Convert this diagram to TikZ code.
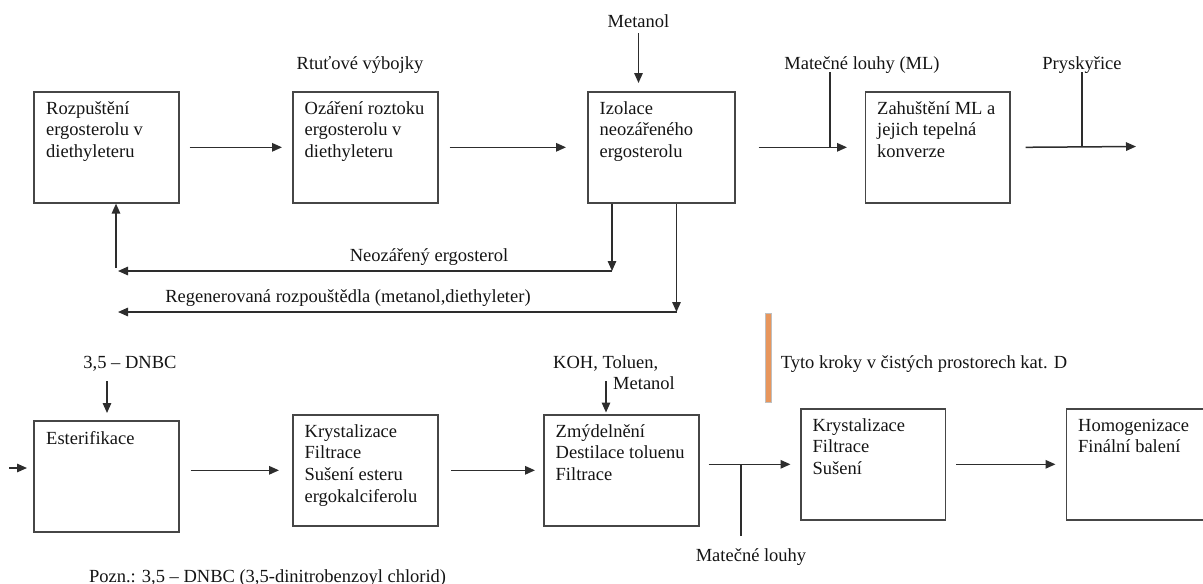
\documentclass[tikz,border=0pt]{standalone}
\usepackage{fontspec}
\setmainfont{Liberation Serif}
\usetikzlibrary{arrows.meta,calc}
\definecolor{lncol}{RGB}{45,45,45}
\definecolor{boxcol}{RGB}{70,70,70}
\definecolor{txcol}{RGB}{20,20,20}
\definecolor{orgcol}{RGB}{232,150,92}
\newcommand\fsz{\fontsize{18.5pt}{21.7pt}\selectfont}
\newcommand\tst{\rule{0pt}{15pt}}
\begin{document}
\begin{tikzpicture}[x=1pt,y=-1pt,
  procbox/.style={draw=boxcol, line width=1.6pt, minimum height=111pt, inner sep=0pt, anchor=north west},
  boxtext/.style={font=\fsz, text=txcol, align=left, anchor=north west, inner sep=0pt},
  lbl/.style={font=\fsz, text=txcol, inner sep=0pt, anchor=base},
  lblw/.style={font=\fsz, text=txcol, inner sep=0pt, anchor=base west},
  arr/.style={draw=lncol, line width=1.5pt, -{Triangle[length=10pt,width=8.5pt]}},
  wire/.style={draw=lncol, line width=1.5pt}]
\path[use as bounding box] (0,0) rectangle (1203,584);
\clip (0,0) rectangle (1203,584);

% top row boxes
\node[procbox, minimum width=145pt] (b1) at (33,91) {};
\node[procbox, minimum width=145pt] (b2) at (292,91) {};
\node[procbox, minimum width=147pt] (b3) at (587,91) {};
\node[procbox, minimum width=144.5pt] (b4) at (864.5,91) {};
% bottom row boxes
\node[procbox, minimum width=145pt] (b5) at (33,420) {};
\node[procbox, minimum width=145pt] (b6) at (292,414) {};
\node[procbox, minimum width=155pt] (b7) at (543,414) {};
\node[procbox, minimum width=144.5pt] (b8) at (800,408) {};
\node[procbox, minimum width=160pt] (b9) at (1065.5,408) {};

% box texts
\node[boxtext] (t1) at ($(b1.north west)+(13,8)$) {\tst Rozpuštění\\ergosterolu v\\diethyleteru};
\node[boxtext] (t2) at ($(b2.north west)+(12.5,8)$) {\tst Ozáření roztoku\\ergosterolu v\\diethyleteru};
\node[boxtext] (t3) at ($(b3.north west)+(12.5,8)$) {\tst Izolace\\neozářeného\\ergosterolu};
\node[boxtext] (t4) at ($(b4.north west)+(12.5,8)$) {\tst Zahuštění ML a\\jejich tepelná\\konverze};
\node[boxtext] (t5) at ($(b5.north west)+(13,9)$) {\tst Esterifikace};
\node[boxtext] (t6) at ($(b6.north west)+(12.5,8)$) {\tst Krystalizace\\Filtrace\\Sušení esteru\\ergokalciferolu};
\node[boxtext] (t7) at ($(b7.north west)+(12.5,8)$) {\tst Zmýdelnění\\Destilace toluenu\\Filtrace};
\node[boxtext] (t8) at ($(b8.north west)+(12.5,8)$) {\tst Krystalizace\\Filtrace\\Sušení};
\node[boxtext] (t9) at ($(b9.north west)+(12.5,8)$) {\tst Homogenizace\\Finální balení};

% labels
\node[lbl] (lmet) at (638.5,27) {Metanol};
\node[lbl] (lrtu) at (360,69) {Rtuťové výbojky};
\node[lbl] (lml) at (862,69) {Matečné louhy (ML)};
\node[lbl] (lpry) at (1082,69) {Pryskyřice};
\node[lbl] (lneo) at (429,261) {Neozářený ergosterol};
\node[lbl] (lreg) at (348,302) {Regenerovaná rozpouštědla (metanol,diethyleter)};
\node[lbl] (ldnbc) at (130,368) {3,5 – DNBC};
\node[boxtext] (lkoh) at (553,353) {\tst KOH, Toluen,\\\hspace*{60pt}Metanol};
\node[lblw] (ltyto) at (780.6,368) {Tyto kroky v čistých prostorech kat. D};
\node[lbl] (lml2) at (751,561) {Matečné louhy};
\node[lblw] (lpozn) at (88.8,582) {Pozn.: 3,5 – DNBC (3,5-dinitrobenzoyl chlorid)};

% orange bar
\node[draw=black!25, fill=orgcol, line width=0.8pt, minimum width=6.5pt, minimum height=89pt, inner sep=0pt] (bar) at (768.5,357.5) {};

% top row arrows
\draw[arr] ($(b1.east)+(10,0)$) -- ($(b2.west)+(-10,0)$);
\draw[arr] ($(b2.east)+(11,0)$) -- ($(b3.west)+(-21,0)$);
\draw[arr] ($(b3.east)+(23,0)$) -- ($(b4.west)+(-17.5,0)$);
\coordinate (out4) at (1136,146.5);
\draw[arr] ($(b4.east)+(15,0)$) -- (out4);
\coordinate (mlj) at (830,72);
\draw[wire] (mlj) -- (mlj |- b4.west);
\coordinate (pyj) at (1082,72);
\draw[wire] (pyj) -- (pyj |- out4);
\coordinate (m1s) at (638.5,33);
\draw[arr, shorten >=8pt] (m1s) -- (m1s |- b3.north);

% feedback loops
\coordinate (n1) at (612,271);
\coordinate (n1l) at (118,271);
\draw[arr] (b3.south -| n1) -- (n1);
\draw[arr] (n1) -- (n1l);
\coordinate (u1) at (116,268);
\draw[arr] (u1) -- (u1 |- b1.south);
\coordinate (n2) at (676.5,312);
\coordinate (n2l) at (118,312);
\draw[arr] (b3.south -| n2) -- (n2);
\draw[arr] (n2) -- (n2l);

% bottom row arrows
\coordinate (in5) at (9,468);
\draw[arr, shorten >=6pt] (in5) -- (in5 -| b5.west);
\coordinate (d1) at (107,381);
\draw[arr, shorten >=7pt] (d1) -- (d1 |- b5.north);
\draw[arr] ($(b6.west -| b5.east)+(11,0)$) -- ($(b6.west)+(-13,0)$);
\draw[arr] ($(b6.east)+(12.5,0)$) -- ($(b7.west)+(-8,0)$);
\draw[arr] ($(b8.west -| b7.east)+(9,0)$) -- ($(b8.west)+(-9.5,0)$);
\draw[arr] ($(b8.east)+(10,0)$) -- ($(b9.west)+(-10,0)$);
\coordinate (j2) at (741,536);
\draw[wire] (j2) -- (j2 |- b8.west);
\coordinate (k1) at (606,381);
\draw[arr, shorten >=1.5pt] (k1) -- (k1 |- b7.north);
\end{tikzpicture}
\end{document}
